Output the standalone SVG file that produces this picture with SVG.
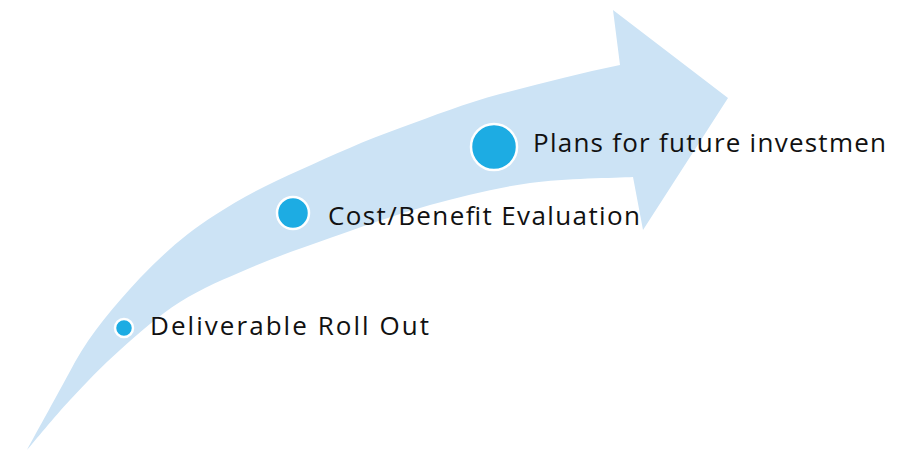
<svg xmlns="http://www.w3.org/2000/svg" width="913" height="451" viewBox="0 0 913 451">
<style>
.band{fill:#CCE3F5;}
.dot{fill:#1DACE3;stroke:#FFFFFF;stroke-width:2.5;}
.lbl{font-family:"Open Sans","Liberation Sans",Arial,sans-serif;font-size:26px;fill:#111111;}
</style>
<rect width="913" height="451" fill="#FFFFFF"/>
<g id="connectors">
<path id="arrow" class="band" d="M27,450 C35,435 60,390 75,362 C92,332 113,307 140,278 C165,252 188,232 215,215 C243,197 268,184 300,170 C333,155 366,140 400,128 C433,116 466,103 500,94 C540,84 580,73 620,65 L613,10 L728,98 L643,230 L633,177 C615.8,178 563.8,178.3 530,183 C496.2,187.7 463.3,195.8 430,205 C396.7,214.2 360,227.5 330,238 C300,248.5 275,257.3 250,268 C225,278.7 201.7,288.3 180,302 C158.3,315.7 138.3,333.7 120,350 C101.7,366.3 85.5,383.3 70,400 C54.5,416.7 34.2,441.7 27,450 Z"/>
</g>
<g id="node-deliverable">
<circle class="dot" cx="124" cy="328" r="9"/>
<text class="lbl" x="150" y="335" textLength="279" lengthAdjust="spacing">Deliverable Roll Out</text>
</g>
<g id="node-cost">
<circle class="dot" cx="293" cy="213" r="16"/>
<text class="lbl" x="328" y="225" textLength="312" lengthAdjust="spacing">Cost/Benefit Evaluation</text>
</g>
<g id="node-plans">
<circle class="dot" cx="494" cy="147" r="23"/>
<text class="lbl" x="533" y="152" textLength="353" lengthAdjust="spacing">Plans for future investmen</text>
</g>
</svg>
